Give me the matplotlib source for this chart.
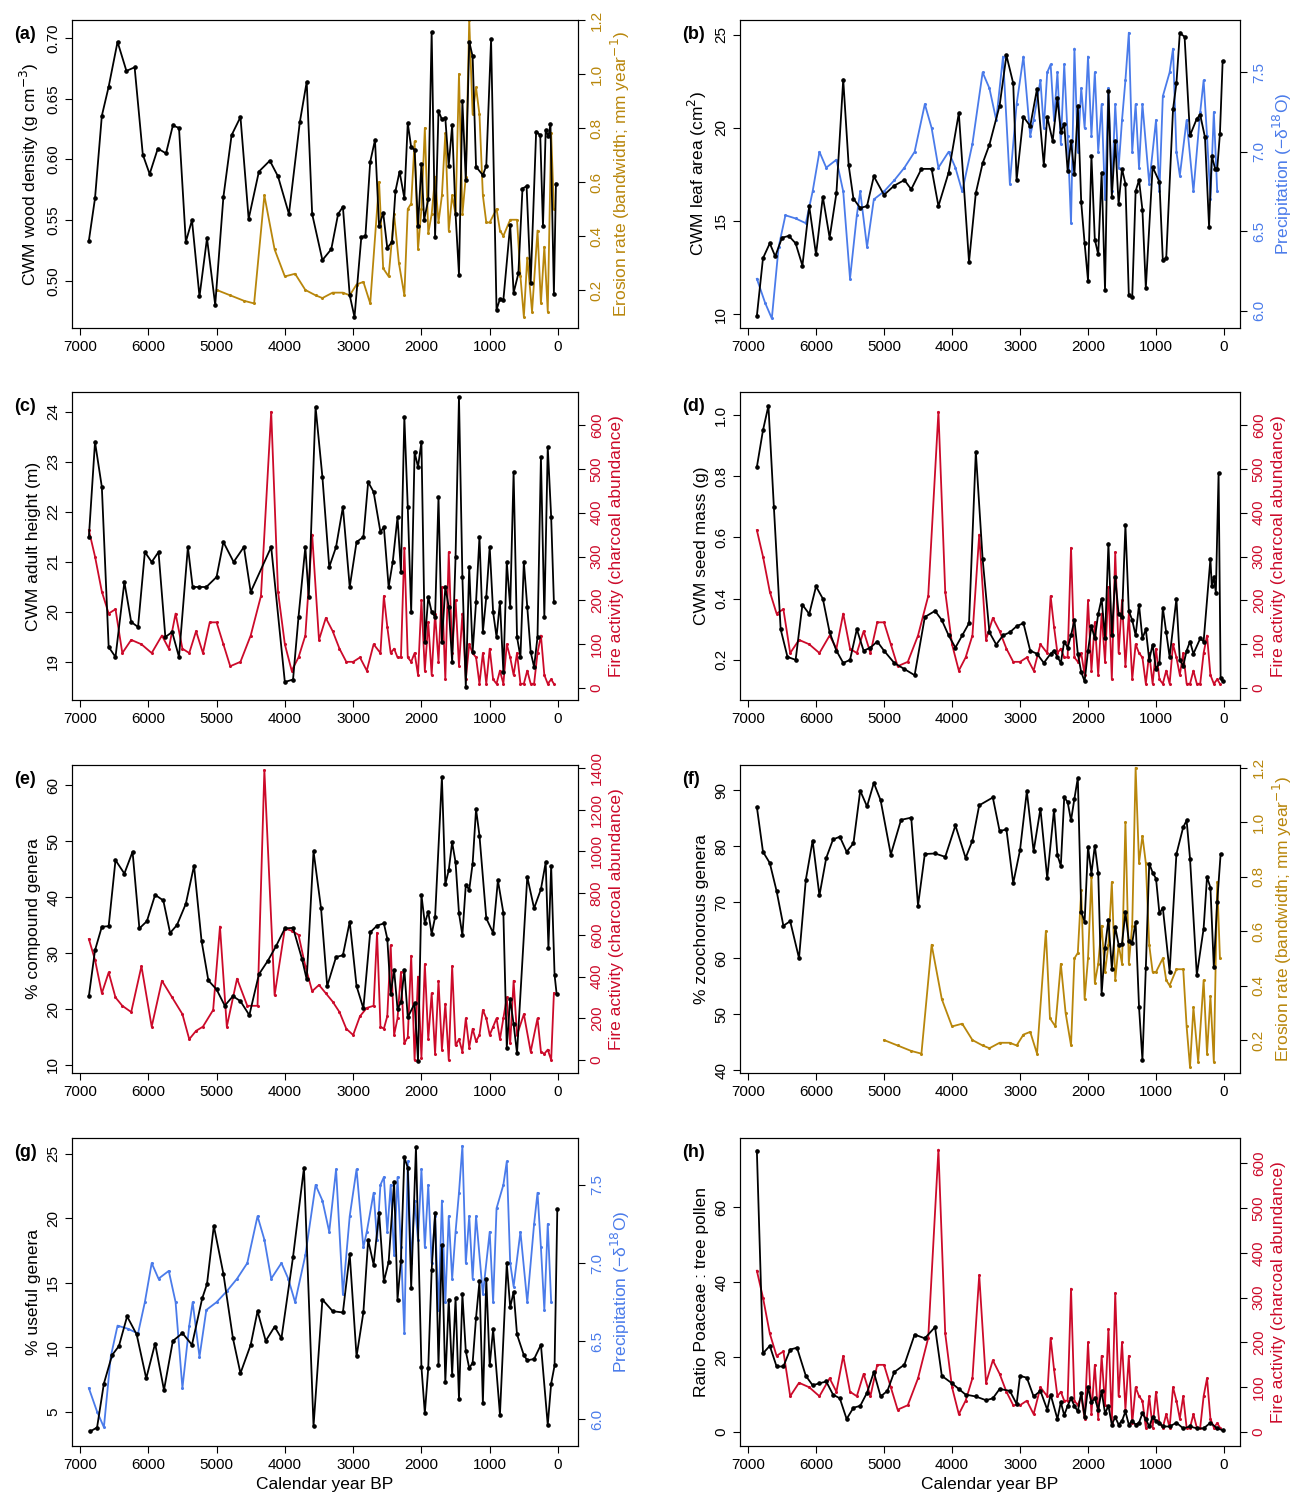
import numpy as np
import matplotlib.pyplot as plt

plt.rcParams['font.family'] = ['Liberation Sans', 'DejaVu Sans']
plt.rcParams['font.size'] = 11.5

ORANGE = '#B8860B'
BLUE = '#4A7BEA'
RED = '#CC0A2A'

# ---- data ----
wood_age = [6870, 6780, 6680, 6580, 6450, 6320, 6200, 6080, 5980, 5860, 5740, 5640, 5550, 5450, 5360, 5250, 5140, 5020, 4900, 4780, 4650, 4530, 4380, 4220, 4100, 3940, 3780, 3680, 3600, 3450, 3320, 3220, 3150, 3050, 2980, 2880, 2820, 2750, 2680, 2620, 2560, 2500, 2430, 2380, 2320, 2250, 2200, 2150, 2100, 2050, 2000, 1960, 1900, 1850, 1800, 1750, 1700, 1650, 1600, 1550, 1500, 1450, 1400, 1350, 1300, 1250, 1200, 1100, 1050, 980, 900, 850, 800, 700, 650, 580, 520, 460, 400, 320, 260, 220, 180, 140, 110, 60, 30]
wood = [.533, .568, .636, .660, .697, .673, .676, .604, .588, .609, .605, .628, .626, .532, .550, .487, .535, .480, .569, .620, .635, .551, .590, .599, .586, .555, .631, .664, .555, .517, .526, .555, .561, .488, .470, .536, .537, .598, .616, .545, .556, .527, .532, .574, .590, .568, .630, .610, .608, .545, .596, .550, .567, .705, .536, .640, .633, .634, .595, .628, .555, .505, .648, .583, .697, .685, .594, .587, .595, .699, .476, .485, .484, .546, .490, .506, .576, .578, .498, .623, .620, .545, .624, .619, .629, .489, .580]

eros_age = [5000, 4800, 4600, 4450, 4300, 4150, 4000, 3850, 3700, 3550, 3450, 3300, 3150, 3050, 2950, 2850, 2750, 2620, 2560, 2480, 2400, 2330, 2250, 2200, 2150, 2100, 2050, 2000, 1950, 1900, 1850, 1800, 1750, 1700, 1650, 1600, 1550, 1500, 1450, 1400, 1350, 1300, 1250, 1200, 1150, 1100, 1050, 1000, 900, 850, 800, 700, 600, 550, 500, 450, 380, 300, 250, 200, 150, 100, 60]
eros = [.2, .18, .16, .15, .55, .35, .25, .26, .2, .18, .17, .19, .19, .18, .22, .23, .15, .6, .28, .25, .48, .30, .18, .5, .52, .75, .35, .5, .8, .41, .48, .62, .45, .55, .78, .42, .55, .48, 1.0, .48, .62, 1.2, .85, .95, .85, .55, .45, .45, .50, .42, .40, .46, .46, .25, .1, .32, .12, .42, .15, .36, .12, .78, .5]

leaf_age = [6870, 6780, 6680, 6600, 6500, 6400, 6300, 6200, 6100, 6000, 5900, 5800, 5700, 5600, 5520, 5450, 5350, 5250, 5150, 5000, 4850, 4700, 4600, 4450, 4300, 4200, 4050, 3900, 3750, 3650, 3550, 3450, 3300, 3200, 3100, 3050, 2950, 2850, 2750, 2650, 2600, 2520, 2450, 2400, 2350, 2300, 2250, 2200, 2150, 2100, 2050, 2000, 1950, 1900, 1850, 1800, 1750, 1700, 1650, 1600, 1550, 1500, 1450, 1400, 1350, 1300, 1250, 1200, 1150, 1050, 950, 900, 850, 750, 700, 650, 580, 500, 400, 350, 280, 220, 180, 130, 100, 60, 20]
leaf = [9.9, 13.0, 13.8, 13.1, 14.1, 14.2, 13.8, 12.6, 15.8, 13.2, 16.3, 14.1, 16.5, 22.6, 18.0, 16.2, 15.7, 15.8, 17.4, 16.4, 16.9, 17.2, 16.7, 17.8, 17.8, 15.8, 17.6, 20.8, 12.8, 16.5, 18.1, 19.1, 21.2, 23.9, 22.4, 17.2, 20.6, 20.1, 22.1, 18.0, 20.6, 19.3, 21.6, 19.8, 20.2, 17.7, 19.3, 17.5, 21.2, 16.0, 13.8, 11.8, 18.5, 14.0, 13.2, 17.6, 11.3, 22.0, 16.3, 19.3, 15.9, 17.8, 17.0, 11.0, 10.9, 16.6, 17.2, 15.6, 11.4, 17.9, 17.1, 12.9, 13.0, 21.0, 22.4, 25.1, 24.9, 19.6, 20.5, 20.7, 19.5, 14.7, 18.5, 17.8, 17.8, 19.7, 23.6]

prec_age = [6870, 6750, 6650, 6550, 6450, 6300, 6150, 6050, 5950, 5850, 5700, 5600, 5500, 5400, 5350, 5250, 5150, 5000, 4850, 4700, 4550, 4400, 4300, 4200, 4050, 3950, 3850, 3700, 3550, 3450, 3350, 3250, 3150, 3050, 2950, 2850, 2800, 2700, 2650, 2600, 2550, 2500, 2450, 2400, 2350, 2300, 2250, 2200, 2150, 2100, 2050, 2000, 1950, 1900, 1850, 1800, 1750, 1700, 1650, 1600, 1550, 1500, 1450, 1400, 1350, 1300, 1250, 1200, 1100, 1000, 950, 900, 800, 750, 700, 650, 550, 450, 350, 300, 250, 200, 150, 100]
prec = [6.2, 6.05, 5.95, 6.4, 6.6, 6.58, 6.55, 6.75, 7.0, 6.9, 6.95, 6.75, 6.2, 6.6, 6.75, 6.4, 6.7, 6.75, 6.82, 6.9, 7.0, 7.3, 7.15, 6.9, 7.0, 6.9, 6.75, 7.05, 7.5, 7.4, 7.2, 7.6, 6.8, 7.3, 7.6, 7.1, 7.2, 7.45, 7.15, 7.5, 7.55, 7.2, 7.5, 7.05, 7.55, 7.1, 6.55, 7.65, 7.0, 7.4, 7.15, 7.6, 7.1, 7.5, 7.0, 7.3, 6.7, 7.4, 6.75, 7.3, 6.9, 7.2, 7.45, 7.75, 7.0, 7.3, 6.9, 7.3, 6.8, 7.2, 6.75, 7.35, 7.5, 7.65, 7.0, 6.85, 7.2, 6.75, 7.25, 7.45, 7.1, 6.7, 7.25, 6.75]

height_age = [6870, 6780, 6680, 6580, 6480, 6350, 6250, 6150, 6050, 5950, 5850, 5750, 5650, 5550, 5420, 5350, 5250, 5150, 5000, 4900, 4750, 4600, 4500, 4200, 4000, 3880, 3800, 3700, 3650, 3550, 3450, 3350, 3250, 3150, 3050, 2950, 2850, 2780, 2700, 2600, 2550, 2480, 2420, 2350, 2300, 2250, 2200, 2150, 2100, 2050, 2000, 1950, 1900, 1850, 1800, 1750, 1700, 1650, 1600, 1550, 1500, 1450, 1400, 1350, 1300, 1250, 1200, 1150, 1100, 1050, 1000, 950, 900, 850, 800, 750, 700, 650, 600, 550, 500, 450, 400, 350, 300, 250, 200, 150, 100, 60]
height = [21.5, 23.4, 22.5, 19.3, 19.1, 20.6, 19.8, 19.7, 21.2, 21.0, 21.2, 19.5, 19.6, 19.1, 21.3, 20.5, 20.5, 20.5, 20.7, 21.4, 21.0, 21.3, 20.4, 21.3, 18.6, 18.65, 19.9, 21.3, 20.3, 24.1, 22.7, 20.9, 21.3, 22.1, 20.5, 21.4, 21.5, 22.6, 22.4, 21.6, 21.7, 20.5, 21.0, 21.9, 20.8, 23.9, 22.1, 20.0, 23.2, 22.9, 23.4, 19.4, 20.3, 20.0, 19.9, 22.3, 19.4, 20.5, 20.1, 19.0, 21.1, 24.3, 20.7, 18.5, 20.9, 19.2, 20.2, 21.5, 19.6, 20.3, 21.3, 20.0, 19.5, 20.2, 18.8, 21.0, 20.1, 22.8, 19.5, 19.1, 21.0, 20.1, 19.2, 18.9, 19.5, 23.1, 19.9, 23.3, 21.9, 20.2]

fire_age = [6870, 6780, 6680, 6580, 6480, 6380, 6250, 6100, 5950, 5800, 5700, 5600, 5500, 5400, 5300, 5200, 5100, 5000, 4900, 4800, 4650, 4500, 4350, 4200, 4100, 4000, 3900, 3800, 3700, 3600, 3500, 3400, 3300, 3200, 3100, 3000, 2900, 2800, 2700, 2600, 2550, 2500, 2450, 2400, 2350, 2300, 2250, 2200, 2150, 2100, 2050, 2000, 1950, 1900, 1850, 1800, 1750, 1700, 1650, 1600, 1550, 1500, 1450, 1400, 1350, 1300, 1250, 1200, 1150, 1100, 1050, 1000, 950, 900, 850, 800, 750, 700, 650, 600, 550, 500, 450, 400, 350, 300, 250, 200, 150, 100, 60]
fire = [360, 300, 220, 170, 180, 80, 110, 100, 80, 120, 90, 170, 90, 80, 130, 80, 150, 150, 100, 50, 60, 120, 210, 630, 220, 100, 40, 70, 120, 350, 110, 160, 130, 90, 60, 60, 70, 40, 100, 80, 210, 140, 80, 90, 70, 70, 320, 70, 60, 80, 30, 200, 40, 150, 30, 170, 60, 230, 20, 310, 80, 200, 50, 170, 20, 100, 80, 70, 10, 80, 10, 90, 20, 10, 40, 10, 100, 70, 30, 80, 10, 10, 40, 10, 10, 80, 120, 30, 10, 20, 10]

seed_age = [6870, 6780, 6700, 6620, 6520, 6420, 6300, 6200, 6100, 6000, 5900, 5800, 5700, 5600, 5500, 5400, 5300, 5200, 5100, 5000, 4850, 4700, 4550, 4400, 4250, 4150, 4050, 3950, 3850, 3750, 3650, 3550, 3450, 3350, 3250, 3150, 3050, 2950, 2850, 2750, 2650, 2550, 2500, 2450, 2400, 2350, 2300, 2250, 2200, 2150, 2100, 2050, 2000, 1950, 1900, 1850, 1800, 1750, 1700, 1650, 1600, 1550, 1500, 1450, 1400, 1350, 1300, 1250, 1200, 1150, 1100, 1050, 1000, 950, 900, 850, 800, 700, 650, 600, 550, 500, 450, 350, 300, 200, 180, 150, 120, 80, 50, 20]
seed = [.83, .95, 1.03, .70, .30, .21, .20, .38, .35, .44, .40, .29, .23, .19, .20, .30, .23, .24, .26, .23, .19, .17, .15, .34, .36, .33, .28, .24, .28, .32, .88, .53, .29, .25, .28, .29, .31, .32, .23, .22, .19, .22, .23, .21, .19, .26, .24, .28, .33, .22, .16, .13, .23, .31, .27, .35, .40, .27, .58, .28, .47, .35, .34, .64, .36, .33, .28, .38, .27, .30, .20, .25, .17, .19, .37, .29, .21, .40, .20, .18, .23, .26, .22, .27, .26, .53, .44, .47, .42, .81, .14, .13]

comp_age = [6870, 6780, 6680, 6580, 6480, 6350, 6230, 6130, 6020, 5900, 5780, 5680, 5580, 5450, 5330, 5220, 5120, 5000, 4880, 4760, 4650, 4520, 4380, 4250, 4130, 4000, 3880, 3750, 3680, 3580, 3470, 3380, 3250, 3150, 3050, 2950, 2850, 2750, 2650, 2550, 2500, 2450, 2400, 2350, 2300, 2250, 2200, 2100, 2050, 2000, 1950, 1900, 1850, 1800, 1700, 1650, 1600, 1550, 1500, 1450, 1400, 1350, 1300, 1250, 1200, 1150, 1050, 950, 880, 800, 750, 700, 650, 600, 450, 350, 250, 180, 140, 100, 50, 20]
comp = [22.3, 30.5, 34.7, 34.8, 46.6, 44.2, 48.1, 34.4, 35.7, 40.4, 39.4, 33.6, 35.0, 38.8, 45.6, 32.2, 25.1, 23.5, 20.6, 22.3, 21.4, 18.9, 26.2, 28.6, 31.2, 34.4, 34.5, 29.0, 25.3, 48.2, 38.0, 24.1, 29.3, 29.6, 35.6, 24.1, 20.1, 33.7, 34.9, 35.3, 32.6, 22.7, 27.0, 20.0, 21.2, 27.0, 18.5, 21.0, 10.8, 40.4, 35.3, 37.4, 33.4, 36.4, 61.4, 42.3, 44.8, 49.8, 46.2, 37.1, 33.2, 42.2, 41.3, 46.0, 55.7, 51.0, 36.2, 33.6, 43.0, 37.2, 13.1, 21.8, 17.3, 12.1, 43.6, 38.0, 41.4, 46.2, 30.9, 45.6, 26.1, 22.7]

fire2_age = [6870, 6780, 6680, 6580, 6480, 6380, 6250, 6100, 5950, 5800, 5650, 5500, 5400, 5300, 5200, 5050, 4950, 4850, 4700, 4550, 4400, 4300, 4150, 4000, 3900, 3800, 3700, 3600, 3500, 3400, 3300, 3200, 3100, 3000, 2900, 2800, 2700, 2650, 2600, 2550, 2500, 2450, 2400, 2350, 2300, 2250, 2200, 2150, 2100, 2050, 2000, 1950, 1900, 1850, 1800, 1750, 1700, 1650, 1600, 1550, 1500, 1450, 1400, 1350, 1300, 1250, 1200, 1150, 1100, 1050, 1000, 950, 900, 850, 800, 750, 700, 650, 600, 500, 400, 300, 250, 200, 150, 100, 60]
fire2 = [580, 480, 320, 420, 300, 260, 230, 450, 160, 380, 300, 220, 100, 140, 160, 240, 640, 160, 390, 260, 260, 1390, 310, 630, 620, 600, 450, 330, 360, 320, 280, 230, 150, 120, 210, 250, 260, 610, 160, 150, 210, 550, 120, 200, 420, 80, 110, 500, 0, 400, 10, 460, 100, 320, 30, 380, 50, 270, 0, 450, 70, 100, 40, 200, 60, 150, 90, 120, 240, 200, 120, 160, 200, 100, 200, 300, 80, 380, 120, 220, 40, 200, 40, 30, 50, 0, 320]

zoo_age = [6870, 6780, 6680, 6580, 6480, 6380, 6250, 6150, 6050, 5950, 5850, 5750, 5650, 5550, 5450, 5350, 5250, 5150, 5050, 4900, 4750, 4600, 4500, 4400, 4250, 4100, 3950, 3800, 3700, 3600, 3400, 3300, 3200, 3100, 3000, 2900, 2800, 2700, 2600, 2500, 2450, 2400, 2350, 2300, 2250, 2200, 2150, 2100, 2050, 2000, 1950, 1900, 1850, 1800, 1750, 1700, 1650, 1600, 1550, 1500, 1450, 1400, 1350, 1300, 1250, 1200, 1150, 1100, 1050, 1000, 950, 900, 800, 700, 600, 550, 500, 400, 300, 250, 200, 150, 100, 50]
zoo = [87, 79, 77, 72, 65.8, 66.6, 60, 74, 81, 71.2, 77.9, 81.2, 81.7, 79, 80.5, 89.9, 87.1, 91.3, 88.2, 78.5, 84.7, 85.1, 69.4, 78.6, 78.7, 78.1, 83.7, 77.9, 81, 87.3, 88.7, 82.7, 83, 73.4, 79.3, 89.8, 79.1, 86.7, 74.3, 86.5, 78.4, 76.5, 88.7, 87.9, 84.6, 88.5, 92.2, 68.3, 66.5, 79.9, 75.1, 80.1, 75.2, 53.6, 61.9, 66.9, 58.1, 65.6, 62.4, 62.6, 68.2, 63, 62.8, 66.5, 51.3, 41.8, 58.2, 76.9, 75.3, 74.2, 68, 69, 57.6, 78.6, 83.4, 84.6, 77.8, 57, 65.3, 74.5, 72.6, 58.4, 70.1, 78.6]

use_age = [6850, 6750, 6650, 6530, 6430, 6310, 6170, 6030, 5900, 5770, 5640, 5500, 5360, 5210, 5140, 5040, 4900, 4760, 4650, 4500, 4400, 4280, 4150, 4050, 3880, 3720, 3580, 3450, 3300, 3150, 3050, 2950, 2850, 2780, 2700, 2620, 2550, 2480, 2400, 2350, 2300, 2250, 2200, 2150, 2080, 2000, 1950, 1900, 1850, 1800, 1750, 1700, 1650, 1600, 1550, 1500, 1450, 1400, 1350, 1300, 1250, 1200, 1150, 1100, 1050, 1000, 950, 850, 750, 700, 650, 600, 500, 450, 350, 250, 150, 100, 50, 10]
use = [3.5, 3.8, 7.2, 9.4, 10.1, 12.4, 11.0, 7.6, 10.3, 6.7, 10.5, 11.1, 10.2, 13.8, 14.9, 19.4, 15.7, 10.7, 8.0, 10.2, 12.8, 10.5, 11.6, 10.7, 17.0, 23.9, 3.9, 13.7, 12.8, 12.7, 17.2, 9.3, 12.7, 18.3, 16.4, 20.4, 15.1, 16.6, 22.8, 13.7, 16.7, 24.7, 23.9, 14.6, 25.5, 8.5, 4.9, 8.4, 16.0, 20.4, 8.6, 17.9, 7.3, 13.7, 7.9, 13.8, 6.0, 14.1, 9.7, 8.4, 8.8, 12.3, 15.1, 5.7, 15.3, 8.6, 11.4, 4.8, 16.5, 13.1, 14.3, 11.0, 9.4, 9.0, 9.1, 10.2, 4.0, 7.2, 8.6, 20.7]

poa_age = [6870, 6780, 6680, 6580, 6480, 6380, 6280, 6150, 6050, 5950, 5850, 5750, 5650, 5550, 5450, 5350, 5250, 5150, 5050, 4950, 4850, 4700, 4550, 4400, 4250, 4150, 4000, 3900, 3800, 3650, 3500, 3400, 3300, 3150, 3050, 3000, 2900, 2800, 2700, 2600, 2550, 2450, 2400, 2350, 2300, 2250, 2200, 2150, 2100, 2050, 2000, 1950, 1900, 1850, 1800, 1750, 1700, 1650, 1600, 1550, 1500, 1450, 1400, 1350, 1300, 1250, 1200, 1150, 1100, 1050, 1000, 950, 900, 800, 700, 600, 500, 400, 300, 200, 100, 20]
poa = [75, 21, 23, 17.5, 17.5, 22, 22.5, 15, 12.5, 13, 13.5, 10, 9, 3.5, 6.5, 7, 10.5, 16, 9.5, 11, 16, 18, 26, 25, 28, 15, 13, 11.5, 10, 9.5, 8.5, 9, 11.5, 11, 7.5, 15, 14.5, 9.5, 11, 6, 10, 3.5, 8, 4.5, 7, 9, 7, 5.5, 10.5, 4, 12, 8, 9, 6, 11, 5, 7, 2, 4, 2, 3, 5.5, 2, 3, 2, 2.5, 5, 3.5, 1.5, 4, 3, 2.5, 1.5, 1.5, 2.5, 1, 1.5, 1, 1, 2.5, 1, 0.5]

# ---- layout ----
W, H = 1302, 1501
cols = [(72, 578, (7117, -293)), (740, 1240, (7118, -235))]
rows = [(20, 328), (392, 700), (765, 1073), (1138, 1446)]

panels = [
    dict(tag='(a)', x=wood_age, y=wood, ylim=(0.461, 0.715), yt=np.arange(0.5, 0.71, 0.05), yfmt='%.2f',
         ylab='CWM wood density (g cm$^{-3}$)', x2=eros_age, y2=eros, c2=ORANGE, ylim2=(0.059, 1.2),
         yt2=np.arange(0.2, 1.21, 0.2), fmt2='%.1f', ylab2='Erosion rate (bandwidth; mm year$^{-1}$)'),
    dict(tag='(b)', x=leaf_age, y=leaf, ylim=(9.25, 25.8), yt=[10, 15, 20, 25], yfmt='%d',
         ylab='CWM leaf area (cm$^{2}$)', x2=prec_age, y2=prec, c2=BLUE, ylim2=(5.89, 7.83),
         yt2=[6.0, 6.5, 7.0, 7.5], fmt2='%.1f', ylab2='Precipitation (\u2212\u03b4$^{18}$O)'),
    dict(tag='(c)', x=height_age, y=height, ylim=(18.24, 24.4), yt=range(19, 25), yfmt='%d',
         ylab='CWM adult height (m)', x2=fire_age, y2=fire, c2=RED, ylim2=(-27, 675),
         yt2=range(0, 601, 100), fmt2='%d', ylab2='Fire activity (charcoal abundance)'),
    dict(tag='(d)', x=seed_age, y=seed, ylim=(0.069, 1.075), yt=[0.2, 0.4, 0.6, 0.8, 1.0], yfmt='%.1f',
         ylab='CWM seed mass (g)', x2=fire_age, y2=fire, c2=RED, ylim2=(-27, 675),
         yt2=range(0, 601, 100), fmt2='%d', ylab2='Fire activity (charcoal abundance)'),
    dict(tag='(e)', x=comp_age, y=comp, ylim=(8.57, 63.6), yt=range(10, 61, 10), yfmt='%d',
         ylab='% compound genera', x2=fire2_age, y2=fire2, c2=RED, ylim2=(-62, 1414),
         yt2=range(0, 1401, 200), fmt2='%d', ylab2='Fire activity (charcoal abundance)'),
    dict(tag='(f)', x=zoo_age, y=zoo, ylim=(39.5, 94.5), yt=range(40, 91, 10), yfmt='%d',
         ylab='% zoochorous genera', x2=eros_age, y2=eros, c2=ORANGE, ylim2=(0.079, 1.21),
         yt2=np.arange(0.2, 1.21, 0.2), fmt2='%.1f', ylab2='Erosion rate (bandwidth; mm year$^{-1}$)'),
    dict(tag='(g)', x=use_age, y=use, ylim=(2.37, 26.2), yt=[5, 10, 15, 20, 25], yfmt='%d',
         ylab='% useful genera', x2=prec_age, y2=prec, c2=BLUE, ylim2=(5.83, 7.8),
         yt2=[6.0, 6.5, 7.0, 7.5], fmt2='%.1f', ylab2='Precipitation (\u2212\u03b4$^{18}$O)'),
    dict(tag='(h)', x=poa_age, y=poa, ylim=(-3.7, 78.4), yt=[0, 20, 40, 60], yfmt='%d',
         ylab='Ratio Poaceae : tree pollen', x2=fire_age, y2=fire, c2=RED, ylim2=(-31, 656),
         yt2=range(0, 601, 100), fmt2='%d', ylab2='Fire activity (charcoal abundance)'),
]

fig = plt.figure(figsize=(W / 100, H / 100), dpi=100)

for i, p in enumerate(panels):
    r, c = divmod(i, 2)
    x0, x1, xl = cols[c]
    y0, y1 = rows[r]
    ax = fig.add_axes([x0 / W, 1 - y1 / H, (x1 - x0) / W, (y1 - y0) / H])
    ax2 = ax.twinx()
    ax.set_zorder(2)
    ax.patch.set_visible(False)

    ax2.plot(p['x2'], p['y2'], color=p['c2'], lw=1.3, marker='o', ms=1.2)
    ax.plot(p['x'], p['y'], color='black', lw=1.3, marker='o', ms=2.3)

    ax.set_xlim(xl)
    ax.set_xticks(range(0, 7001, 1000))
    ax.set_ylim(p['ylim'])
    ax.set_yticks(list(p['yt']))
    ax.set_yticklabels([p['yfmt'] % v for v in p['yt']], rotation=90, va='center')
    ax.set_ylabel(p['ylab'], fontsize=12.5)
    ax2.set_ylim(p['ylim2'])
    ax2.set_yticks(list(p['yt2']))
    ax2.set_yticklabels([p['fmt2'] % v for v in p['yt2']], rotation=90, va='center', color=p['c2'])
    ax2.set_ylabel(p['ylab2'], color=p['c2'], fontsize=12.5)
    for a in (ax, ax2):
        a.tick_params(direction='out', length=5, labelsize=11)
    if r == 3:
        ax.set_xlabel('Calendar year BP', fontsize=12.5)
    ax.text(-0.115, 0.98, p['tag'], transform=ax.transAxes, fontsize=13,
            fontweight='bold', va='top', ha='left')

fig.savefig('out.png', dpi=100)
